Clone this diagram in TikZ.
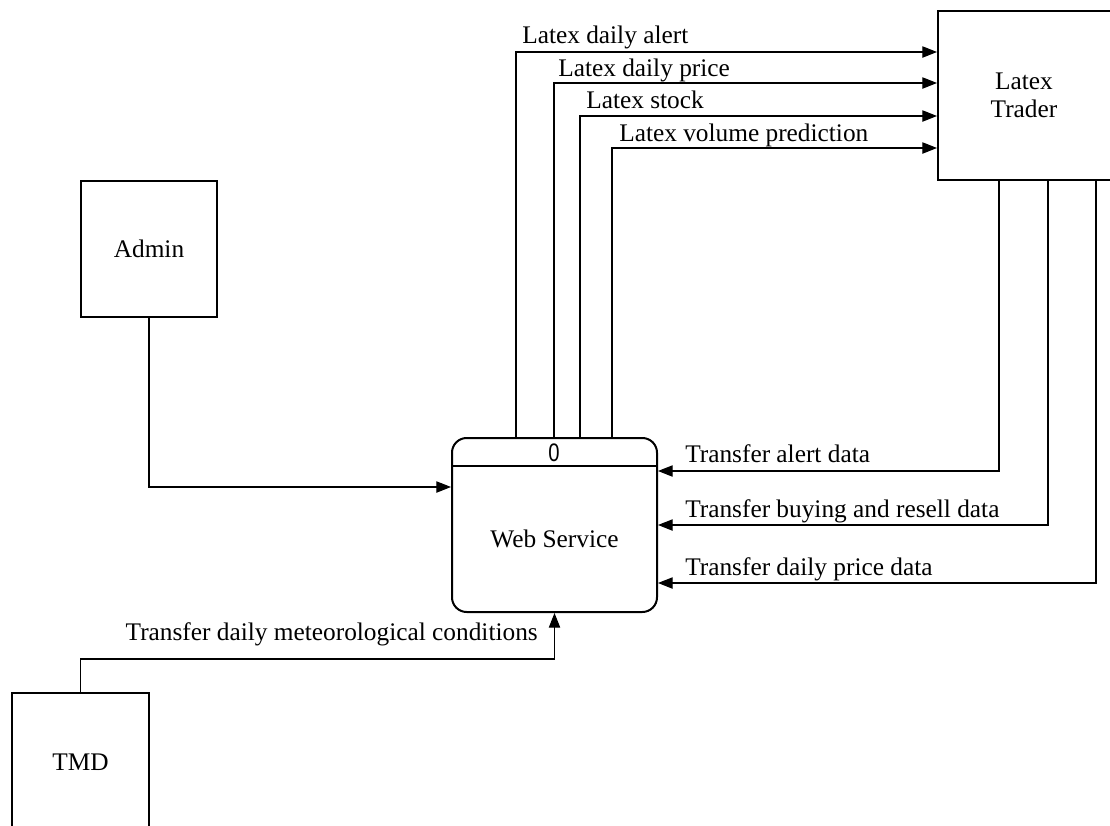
\documentclass[tikz,border=0pt]{standalone}
\usepackage{fontspec}
\setmainfont{Liberation Serif}
\newfontfamily\digitfont{Liberation Sans}
\usetikzlibrary{arrows.meta}
\begin{document}
\begin{tikzpicture}[x=0.75pt,y=-0.75pt,
  every node/.style={font=\fontsize{19}{21}\selectfont},
  entity/.style={draw,line width=1.5pt,rectangle,inner sep=0pt,align=center},
  process/.style={draw,line width=1.5pt,rounded corners=11pt,inner sep=0pt,
    minimum width=153.75pt,minimum height=130.5pt},
  flow/.style={draw,line width=0.8pt,-{Triangle[length=11pt,width=8.5pt]}},
  lbl/.style={anchor=base west,inner sep=0pt},
  lblr/.style={anchor=base east,inner sep=0pt}]
\useasboundingbox (0,0) rectangle (1110,825);

% external entities
\node[entity,minimum width=102pt,minimum height=102pt] (admin) at (149,249) {Admin};
\node[entity,minimum width=102.75pt,minimum height=103.5pt] (tmd) at (80.5,762) {TMD};
\node[entity,minimum width=135pt,minimum height=126.75pt,text width=120pt] (trader) at (1028,95.5)
  {\hspace*{-6pt}Latex\\\hspace*{-6pt}Trader};

% process
\node[process] (ws) at (554.5,525) {};
\node (wsname) at (554.5,539) {Web Service};
\coordinate (hdr) at (0,466);
\draw[line width=1pt] (ws.west |- hdr) -- (ws.east |- hdr);
\node[font=\digitfont\fontsize{19}{21}\selectfont,inner sep=0pt,xscale=0.8] (wsid) at (554,453) {0};

% flows into the web service
\coordinate (adminrow) at (0,487);
\draw[flow] (admin.south) |- (ws.west |- adminrow);
\coordinate (tmdrow) at (0,659);
\draw[flow] (tmd.north) |- (ws.south |- tmdrow) -- (ws.south);

% flows from the web service to the trader
\draw[flow] (ws.north -| 516,0) |- (trader.west |- 0,52);
\draw[flow] (ws.north -| 554,0) |- (trader.west |- 0,83);
\draw[flow] (ws.north -| 580,0) |- (trader.west |- 0,116);
\draw[flow] (ws.north -| 612,0) |- (trader.west |- 0,148);

% flows from the trader to the web service
\draw[flow] (trader.south -| 999,0) |- (ws.east |- 0,471);
\draw[flow] (trader.south -| 1048,0) |- (ws.east |- 0,525);
\draw[flow] (trader.south -| 1096,0) |- (ws.east |- 0,583);

% flow labels
\node[lbl] (la) at (522,43) {Latex daily alert};
\node[lbl] (lb) at (558,76) {Latex daily price};
\node[lbl] (lc) at (586,108) {Latex stock};
\node[lbl] (ld) at (619,141) {Latex volume prediction};
\node[lbl] (ra) at (685,462) {Transfer alert data};
\node[lbl] (rb) at (685,517) {Transfer buying and resell data};
\node[lbl] (rc) at (685,575) {Transfer daily price data};
\node[lblr] (bt) at (538,640) {Transfer daily meteorological conditions};
\end{tikzpicture}
\end{document}
